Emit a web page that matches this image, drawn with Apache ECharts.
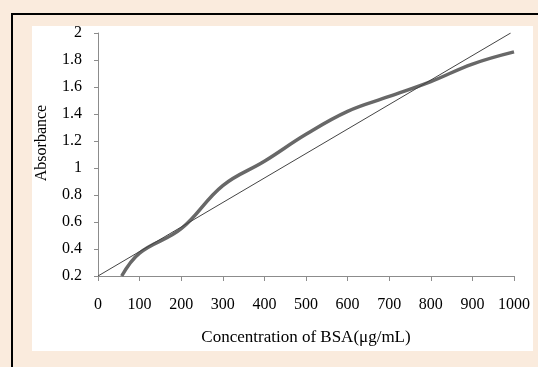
<!DOCTYPE html>
<html>
<head>
<meta charset="utf-8">
<script src="https://cdn.jsdelivr.net/npm/echarts@6/dist/echarts.min.js"></script>
<style>
  html, body { margin:0; padding:0; background:#FAEBDD; }
  #chart { width:538px; height:367px; }
</style>
</head>
<body>
<div id="chart"></div>
<script>
// --- measured curve (concentration, absorbance)
const concentration = [57, 100, 200, 300, 400, 500, 600, 700, 800, 900, 1000];
const absorbance = [0.2, 0.37, 0.55, 0.87, 1.05, 1.25, 1.42, 1.53, 1.64, 1.77, 1.86];
// --- linear trend line end points
const trendX = [0, 992];
const trendY = [0.2, 2.0];

const font = '"Liberation Serif","Times New Roman",serif';
const chart = echarts.init(document.getElementById("chart"));

chart.setOption({
  animation: false,
  backgroundColor: "#FAEBDD",
  graphic: [
    { type: "rect", z: -10, shape: { x: 12, y: 14, width: 600, height: 400 },
      style: { fill: "#FAEBDD", stroke: "#000", lineWidth: 2 } },
    { type: "rect", z: -9, shape: { x: 32, y: 26, width: 501, height: 325 },
      style: { fill: "#fff" } }
  ],
  grid: { left: 98, top: 33, right: 24, bottom: 91 },
  xAxis: {
    type: "value",
    min: 0, max: 1000, interval: 100,
    name: "Concentration of BSA(μg/mL)",
    nameLocation: "middle",
    nameGap: 53,
    nameTextStyle: { fontFamily: font, fontSize: 17, color: "#000" },
    axisLine: { lineStyle: { color: "#8c8c8c" } },
    axisTick: { show: true, length: 5, lineStyle: { color: "#8c8c8c" } },
    axisLabel: { fontFamily: font, fontSize: 16, color: "#000", margin: 21,
      formatter: (v) => String(v) },
    splitLine: { show: false }
  },
  yAxis: {
    type: "value",
    min: 0.2, max: 2, interval: 0.2,
    name: "Absorbance",
    nameLocation: "middle",
    nameRotate: 90,
    nameGap: 48,
    nameTextStyle: { fontFamily: font, fontSize: 16, color: "#000", padding: [0, 0, 0, 23] },
    axisLine: { show: true, lineStyle: { color: "#8c8c8c" } },
    axisTick: { show: true, length: 4, lineStyle: { color: "#8c8c8c" } },
    axisLabel: { fontFamily: font, fontSize: 16, color: "#000", margin: 16,
      formatter: (v) => String(Math.round(v * 10) / 10) },
    splitLine: { show: false }
  },
  series: [
    {
      type: "line",
      data: concentration.map((c, i) => [c, absorbance[i]]),
      smooth: 0.4,
      symbol: "none",
      lineStyle: { color: "#686868", width: 3.5 }
    },
    {
      type: "line",
      data: trendX.map((c, i) => [c, trendY[i]]),
      symbol: "none",
      lineStyle: { color: "#444", width: 1 }
    }
  ]
});
</script>
</body>
</html>
